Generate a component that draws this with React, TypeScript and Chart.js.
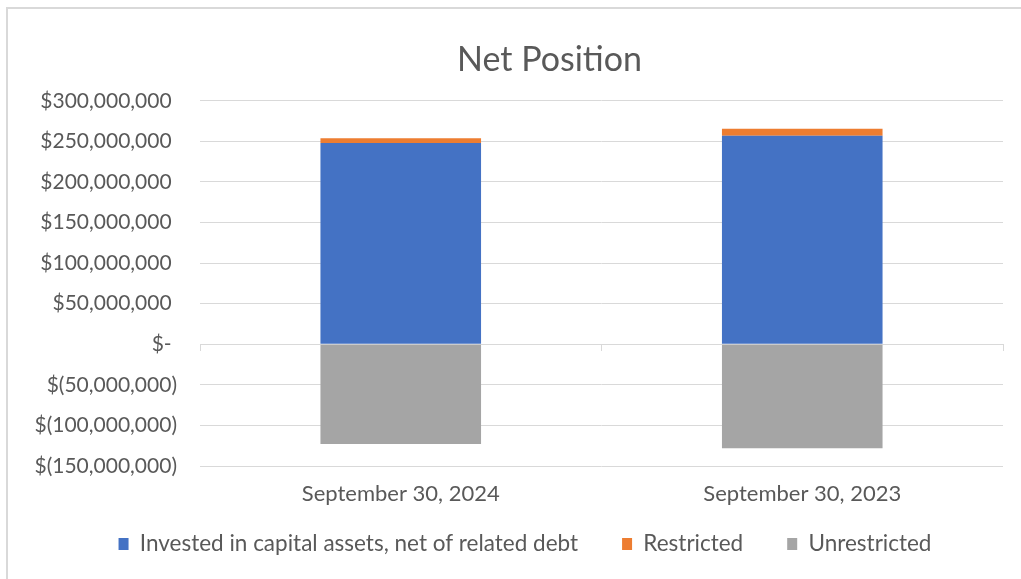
import React, { useEffect, useRef } from "react";
import { Chart, registerables } from "chart.js";

Chart.register(...registerables);

const categories = ["September 30, 2024", "September 30, 2023"];
const investedValues = [248000000, 257000000];
const restrictedValues = [6000000, 8500000];
const unrestrictedValues = [-123000000, -128000000];
const seriesNames = ["Invested in capital assets, net of related debt", "Restricted", "Unrestricted"];
const seriesColors = ["#4472C4", "#ED7D31", "#A5A5A5"];
const yTickValues = [300000000, 250000000, 200000000, 150000000, 100000000, 50000000, 0, -50000000, -100000000, -150000000];
const yTickLabels = [
  "$300,000,000 ",
  "$250,000,000 ",
  "$200,000,000 ",
  "$150,000,000 ",
  "$100,000,000 ",
  "$50,000,000 ",
  "$- ",
  "$(50,000,000)",
  "$(100,000,000)",
  "$(150,000,000)",
];
const chartTitle = "Net Position";

const FONT = "Lato, 'Noto Sans', sans-serif";
const TEXT = "#595959";
const GRID = "#d9d9d9";
const CANVAS_W = 1093;
const CANVAS_H = 579;

const legendShift = {
  id: "legendShift",
  afterLayout(chart: any) {
    const lg = chart.legend;
    if (lg) {
      lg.left -= 24.5;
      lg.right -= 24.5;
    }
  },
};

export default function App() {
  const ref = useRef<HTMLCanvasElement | null>(null);

  useEffect(() => {
    if (!ref.current) return;
    const chart = new Chart(ref.current, {
      type: "bar",
      data: {
        labels: categories,
        datasets: [
          { label: seriesNames[0], data: investedValues, backgroundColor: seriesColors[0], stack: "s" },
          { label: seriesNames[1], data: restrictedValues, backgroundColor: seriesColors[1], stack: "s" },
          { label: seriesNames[2], data: unrestrictedValues, backgroundColor: seriesColors[2], stack: "s" },
        ],
      },
      plugins: [legendShift],
      options: {
        responsive: false,
        animation: false,
        devicePixelRatio: 1,
        datasets: { bar: { categoryPercentage: 0.8, barPercentage: 0.5 } },
        layout: { padding: { top: 0, left: 6, right: 0, bottom: 13.75 } },
        scales: {
          x: {
            stacked: true,
            grid: { display: false, drawTicks: false },
            border: { display: false },
            ticks: { display: false },
            afterFit: (s: any) => {
              s.height = 22.75;
            },
          },
          x2: {
            type: "category",
            labels: categories,
            position: { y: 0 } as any,
            offset: true,
            grid: { drawOnChartArea: false, drawTicks: true, tickLength: 6, color: GRID, offset: true },
            border: { display: true, color: GRID },
            ticks: { display: true, color: TEXT, font: { family: FONT, size: 22 }, padding: 130, maxRotation: 0 },
          },
          y: {
            stacked: true,
            min: -150000000,
            max: 300000000,
            grid: { color: GRID, drawTicks: false },
            border: { display: false },
            ticks: {
              stepSize: 50000000,
              color: TEXT,
              font: { family: FONT, size: 21 },
              padding: 23,
              callback: (v: any) => {
                const i = yTickValues.indexOf(Number(v));
                return i >= 0 ? yTickLabels[i] : "";
              },
            },
            afterFit: (s: any) => {
              s.width = 194;
            },
          },
          yRight: {
            type: "linear",
            position: "right",
            display: true,
            grid: { display: false, drawTicks: false },
            border: { display: false },
            ticks: { display: false },
            afterFit: (s: any) => {
              s.width = 90;
            },
          },
        },
        plugins: {
          title: {
            display: true,
            text: chartTitle,
            color: TEXT,
            font: { family: FONT, size: 34, weight: "normal" },
            padding: { top: 40, bottom: 20 },
          },
          legend: {
            position: "bottom",
            labels: {
              color: TEXT,
              font: { family: FONT, size: 22.5 },
              boxWidth: 10,
              boxHeight: 12,
              padding: 44,
            },
          },
          tooltip: { enabled: false },
        },
      },
    } as any);
    return () => chart.destroy();
  }, []);

  return (
    <div style={{ position: "fixed", left: 0, top: 0, width: 1021, height: 579, background: "#fff", overflow: "hidden" }}>
      <div
        style={{
          position: "absolute",
          left: 6,
          top: 7,
          width: 1100,
          height: 700,
          borderTop: "2px solid #d9d9d9",
          borderLeft: "2px solid #d9d9d9",
        }}
      />
      <canvas ref={ref} width={CANVAS_W} height={CANVAS_H} style={{ position: "absolute", left: 0, top: 0 }} />
    </div>
  );
}
